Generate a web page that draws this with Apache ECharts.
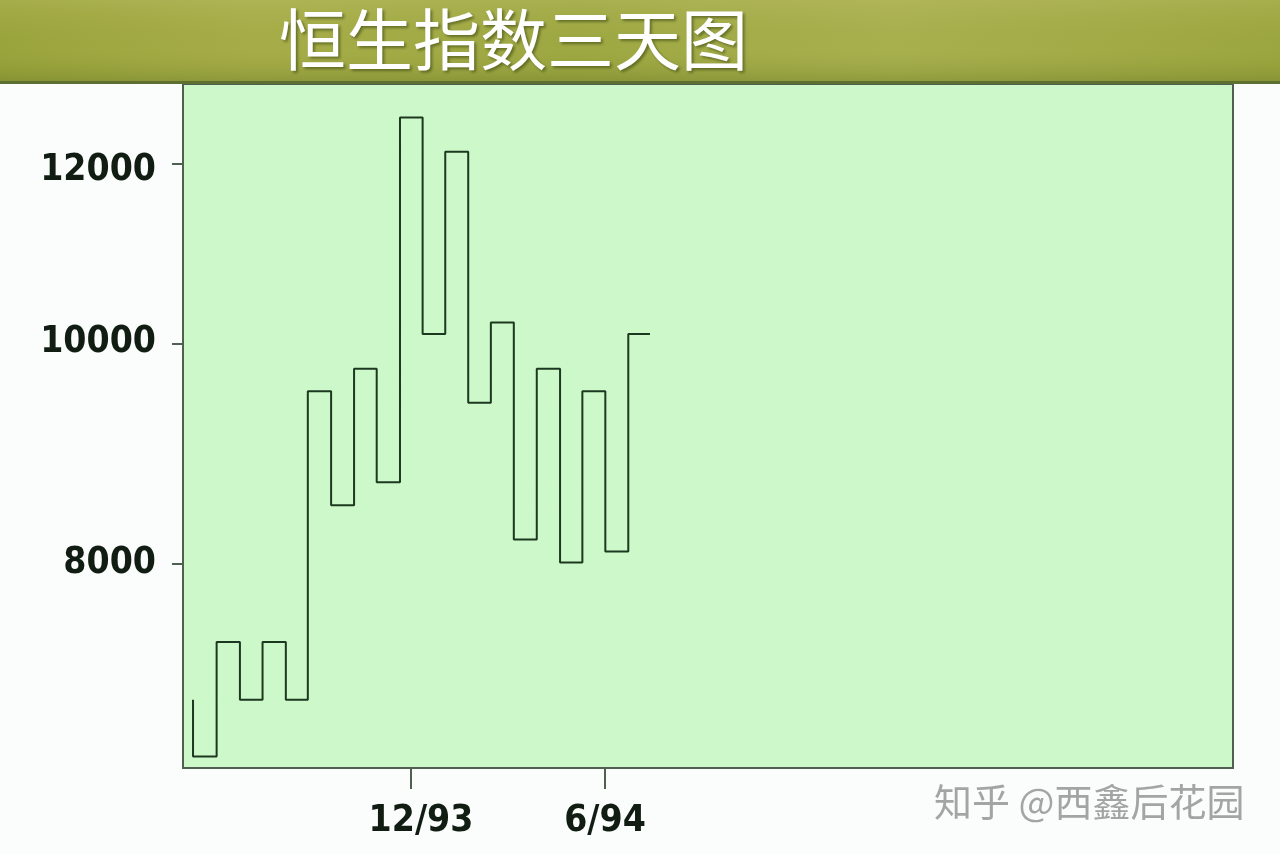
<!DOCTYPE html>
<html><head><meta charset="utf-8">
<script src="https://cdn.jsdelivr.net/npm/echarts@6/dist/echarts.min.js"></script>
<style>html,body{margin:0;padding:0;background:#fbfcfc}#chart{width:1280px;height:854px}</style>
</head><body><div id="chart"></div>
<script>
const titleText = '恒生指数三天图';
const watermarkText = '知乎 @西鑫后花园';
// swing turn points: x in months (12 = Dec 1993, 18 = Jun 1994), y = Hang Seng index level
const turnMonths = [5.26, 5.99, 6.71, 7.41, 8.13, 8.81, 9.53, 10.24, 10.94, 11.66, 12.36, 13.06, 13.77, 14.47, 15.18, 15.89, 16.61, 17.30, 18.01, 18.72, 19.39];
const indexLevels = [6970, 6580, 7390, 6970, 7390, 6970, 9530, 8490, 9750, 8690, 12580, 10100, 12150, 9420, 10220, 8200, 9750, 8010, 9530, 8100, 10100];
const yTickValues = [8000, 10000, 12000];
const xTickValues = [12, 18];
const xTickLabels = ['12/93', '6/94'];

const chart = echarts.init(document.getElementById('chart'), null, {renderer: 'canvas'});
const labelFont = '"DejaVu Sans Condensed", "DejaVu Sans", sans-serif';
const lblStyle = {fontSize: 37, fontWeight: 'bold', color: '#111d12', fontFamily: labelFont};
const option = {
  backgroundColor: '#fbfcfc',
  animation: false,
  title: {
    text: titleText, left: 279, top: 6, padding: 0,
    textStyle: {
      color: '#ffffff', fontSize: 67, fontWeight: 'normal',
      fontFamily: '"Noto Sans CJK SC", sans-serif',
      textShadowColor: 'rgba(50,60,10,0.55)', textShadowBlur: 3,
      textShadowOffsetX: 2, textShadowOffsetY: 2
    },
    z: 10
  },
  graphic: [
    { type: 'rect', z: 0, shape: {x: 0, y: 0, width: 1280, height: 83},
      style: { fill: new echarts.graphic.LinearGradient(0, 0, 1, 0, [
        {offset: 0, color: '#9aa43c'}, {offset: 0.2, color: '#a6ad48'},
        {offset: 0.45, color: '#9ea842'}, {offset: 0.7, color: '#a8b04e'},
        {offset: 1, color: '#9ca63f'}]) } },
    { type: 'rect', z: 1, shape: {x: 0, y: 0, width: 1280, height: 83},
      style: { fill: new echarts.graphic.LinearGradient(0, 0, 0, 1, [
        {offset: 0, color: 'rgba(200,200,120,0.25)'}, {offset: 0.6, color: 'rgba(150,160,60,0.0)'},
        {offset: 1, color: 'rgba(90,110,30,0.35)'}]) } },
    { type: 'rect', z: 2, shape: {x: 0, y: 81, width: 1280, height: 3},
      style: { fill: '#5d7030' } },
    { type: 'text', z: 5, left: 934, top: 783,
      style: { text: watermarkText, fill: '#a4a4a4', fontSize: 38,
        fontFamily: '"Noto Sans CJK SC", sans-serif' } }
  ],
  grid: {
    left: 183, top: 84, right: 47, bottom: 86,
    show: true, backgroundColor: '#cdf8c9', borderColor: '#4f5f50', borderWidth: 2
  },
  xAxis: {
    type: 'value', min: 4.95, max: 37.42,
    splitLine: {show: false},
    axisLine: {show: true, lineStyle: {color: '#4f5f50', width: 2}},
    axisTick: {show: true, customValues: xTickValues, length: 21, lineStyle: {color: '#4f5f50', width: 2}},
    axisLabel: {
      customValues: xTickValues, margin: 35,
      formatter: v => {
        const i = xTickValues.indexOf(v);
        return i === 0 ? '{a|' + xTickLabels[i] + '}' : '{b|' + xTickLabels[i] + '}';
      },
      rich: {
        a: Object.assign({padding: [0, 0, 0, 20]}, lblStyle),
        b: Object.assign({}, lblStyle)
      }
    }
  },
  yAxis: {
    type: 'log', logBase: 10, min: 6503, max: 13016,
    splitLine: {show: false},
    axisLine: {show: true, lineStyle: {color: '#4f5f50', width: 2}},
    axisTick: {show: true, customValues: yTickValues, length: 11, lineStyle: {color: '#4f5f50', width: 2}},
    axisLabel: {
      customValues: yTickValues, margin: 27,
      formatter: v => {
        const r = Math.round(v);
        return r === 12000 ? '{hi|' + r + '}' : (r === 10000 ? '{mid|' + r + '}' : '{lo|' + r + '}');
      },
      rich: {
        hi: Object.assign({padding: [13, 0, 0, 0]}, lblStyle),
        mid: Object.assign({padding: [0, 0, 2, 0]}, lblStyle),
        lo: Object.assign({}, lblStyle)
      }
    }
  },
  series: [{
    type: 'line', step: 'start', symbol: 'none',
    lineStyle: {color: '#1d3820', width: 2},
    data: turnMonths.map((m, i) => [m, indexLevels[i]])
  }]
};
chart.setOption(option);
</script></body></html>
